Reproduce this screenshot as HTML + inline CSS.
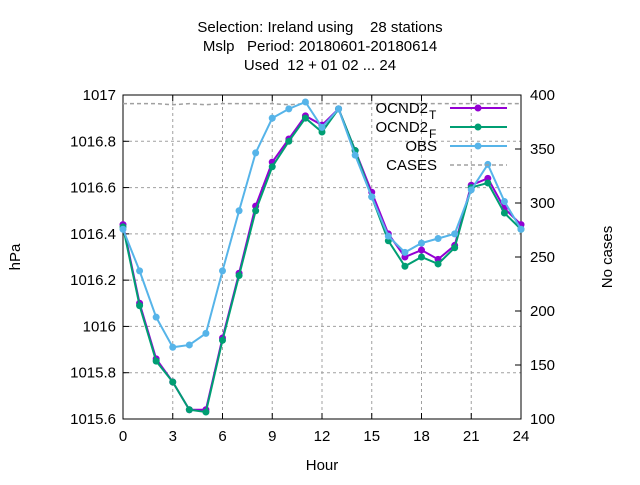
<!DOCTYPE html>
<html><head><meta charset="utf-8"><style>
body{margin:0;background:#fff}
svg text{font-family:"Liberation Sans",sans-serif;fill:#000}
</style></head><body>
<svg width="640" height="480" xmlns="http://www.w3.org/2000/svg">
<g id="title" font-size="15" text-anchor="middle">
<text x="320" y="32" style="white-space:pre" xml:space="preserve">Selection: Ireland using    28 stations</text>
<text x="320" y="51" xml:space="preserve">Mslp   Period: 20180601-20180614</text>
<text x="320" y="70" xml:space="preserve">Used  12 + 01 02 ... 24</text>
</g>
<g id="grid"></g><g id="axes"></g><g id="series"></g><g id="legend"></g>
<text x="20" y="257" font-size="15" text-anchor="middle" transform="rotate(-90 20 257)">hPa</text>
<text x="612" y="257" font-size="15" text-anchor="middle" transform="rotate(-90 612 257)">No cases</text>
<text x="322" y="470" font-size="15" text-anchor="middle">Hour</text>
</svg>
<script>
const hours=[0,1,2,3,4,5,6,7,8,9,10,11,12,13,14,15,16,17,18,19,20,21,22,23,24];
const ocndT=[1016.44,1016.10,1015.86,1015.76,1015.64,1015.64,1015.95,1016.23,1016.52,1016.71,1016.81,1016.91,1016.87,1016.94,1016.76,1016.58,1016.40,1016.30,1016.33,1016.29,1016.35,1016.61,1016.64,1016.51,1016.44];
const ocndF=[1016.43,1016.09,1015.85,1015.76,1015.64,1015.63,1015.94,1016.22,1016.50,1016.69,1016.80,1016.90,1016.84,1016.94,1016.76,1016.56,1016.37,1016.26,1016.30,1016.27,1016.34,1016.60,1016.62,1016.49,1016.42];
const obs=[1016.42,1016.24,1016.04,1015.91,1015.92,1015.97,1016.24,1016.50,1016.75,1016.90,1016.94,1016.97,1016.86,1016.94,1016.74,1016.56,1016.39,1016.32,1016.36,1016.38,1016.40,1016.59,1016.70,1016.54,1016.42];
const cases=[392,392,392,391,392,391,392,392,392,392,391,392,392,392,392,392,392,392,392,392,392,392,392,392,392];
const xTicks=[0,3,6,9,12,15,18,21,24];
const yTicks=[1015.6,1015.8,1016,1016.2,1016.4,1016.6,1016.8,1017];
const y2Ticks=[100,150,200,250,300,350,400];
const L=123,R=521,T=95,B=419;
const xs=h=>L+(R-L)*h/24;
const ys=v=>B-(B-T)*(v-1015.6)/1.4;
const y2s=v=>B-(B-T)*(v-100)/300;
const NS='http://www.w3.org/2000/svg';
function mk(p,tag,at){const e=document.createElementNS(NS,tag);for(const k in at)e.setAttribute(k,at[k]);p.appendChild(e);return e;}
const grid=document.getElementById('grid'),axes=document.getElementById('axes'),ser=document.getElementById('series'),leg=document.getElementById('legend');
xTicks.forEach(t=>{const x=xs(t);
 if(t>0&&t<24){const g=mk(grid,'line',{x1:x,x2:x,y1:T,y2:B,stroke:'#a0a0a0','stroke-dasharray':'3,3'});
 
 }
 mk(axes,'line',{x1:x,x2:x,y1:B,y2:B-6,stroke:'#000'});mk(axes,'line',{x1:x,x2:x,y1:T,y2:T+6,stroke:'#000'});
 const tx=mk(axes,'text',{x:x,y:B+22,'font-size':15,'text-anchor':'middle'});tx.textContent=t;
 
 });
yTicks.forEach(t=>{const y=ys(t);
 if(t>1015.6&&t<1017){const g=mk(grid,'line',{x1:L,x2:R,y1:y,y2:y,stroke:'#a0a0a0','stroke-dasharray':'3,3'});
 
 }
 mk(axes,'line',{x1:L,x2:L+6,y1:y,y2:y,stroke:'#000'});
 const tx=mk(axes,'text',{x:L-7,y:y+5,'font-size':15,'text-anchor':'end'});tx.textContent=String(t);
 
 });
y2Ticks.forEach(t=>{const y=y2s(t);
 mk(axes,'line',{x1:R,x2:R-6,y1:y,y2:y,stroke:'#000'});
 const tx=mk(axes,'text',{x:R+9,y:y+5,'font-size':15});tx.textContent=t;
 
 });
const fr=mk(axes,'rect',{x:L,y:T,width:R-L,height:B-T,fill:'none',stroke:'#000'});


function line(vals,sc,col,dash,name,marker){
 const g=mk(ser,'g',{});
 
 
 const pts=vals.map((v,i)=>xs(hours[i])+','+sc(v)).join(' ');
 mk(g,'polyline',{points:pts,fill:'none',stroke:col,'stroke-width':dash?1.5:2,'stroke-dasharray':dash||'none'});
 if(marker)vals.forEach((v,i)=>{const c=mk(g,'circle',{cx:xs(hours[i]),cy:sc(v),r:3.5,fill:col});
 
 });
}
line(cases,y2s,'#a0a0a0','4,3','cases-series',false);
line(ocndT,ys,'#9400d3',null,'ocnd2-t-series',true);
line(ocndF,ys,'#009e73',null,'ocnd2-f-series',true);
line(obs,ys,'#56b4e9',null,'obs-series',true);
const items=[['OCND2','T','#9400d3',0],['OCND2','F','#009e73',0],['OBS','','#56b4e9',0],['CASES','','#a0a0a0',1]];
items.forEach((it,i)=>{const y=108+i*19;
 const g=mk(leg,'g',{});
 
 
 const t=mk(g,'text',{x:it[1]?437:437,y:y+5,'font-size':15,'text-anchor':'end'});
 t.textContent=it[0];
 if(it[1]){t.setAttribute('x',428);const s=mk(g,'text',{x:429,y:y+11,'font-size':12});s.textContent=it[1];}
 mk(g,'line',{x1:450,x2:507,y1:y,y2:y,stroke:it[2],'stroke-width':it[3]?1.5:2,'stroke-dasharray':it[3]?'4,3':'none'});
 if(!it[3])mk(g,'circle',{cx:478,cy:y,r:3.5,fill:it[2]});
});
</script>
</body></html>
